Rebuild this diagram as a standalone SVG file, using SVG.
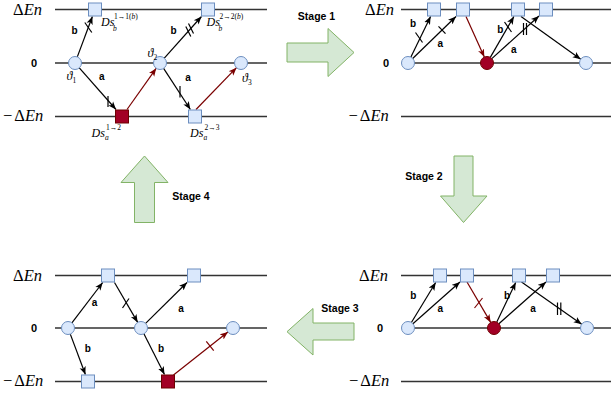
<svg xmlns="http://www.w3.org/2000/svg" width="611" height="393" viewBox="0 0 611 393">
<style>
.lv{stroke:#333;stroke-width:1.4;fill:none}
.nd{fill:#dae8fc;stroke:#6c8ebf;stroke-width:1}
.rd{fill:#a20025;stroke:#6f0000;stroke-width:1}
.e{stroke:#000;stroke-width:1.2;fill:none;marker-end:url(#ab)}
.er{stroke:#7a0000;stroke-width:1.2;fill:none;marker-end:url(#ar)}
.mk{stroke:#000;stroke-width:1.2;fill:none}
.mkr{stroke:#7a0000;stroke-width:1.2;fill:none}
.lb{font-family:"Liberation Sans",Arial,sans-serif;font-weight:bold;font-size:10px;fill:#000;text-anchor:middle}
.st{font-family:"Liberation Sans",Arial,sans-serif;font-weight:bold;font-size:10.5px;fill:#000;text-anchor:middle}
.zr{font-family:"Liberation Sans",Arial,sans-serif;font-weight:bold;font-size:11px;fill:#000;text-anchor:middle}
.m{font-family:"Liberation Serif","DejaVu Serif",serif;font-size:16.5px;fill:#000}
.ds{font-family:"Liberation Serif","DejaVu Serif",serif;font-style:italic;font-size:12px;fill:#000}
.sp{font-family:"Liberation Serif","DejaVu Serif",serif;font-size:7.5px;fill:#000}
.th{font-family:"Liberation Serif","DejaVu Serif",serif;font-style:italic;font-size:12px;fill:#000}
.ar{fill:#d5e8d4;stroke:#82b366;stroke-width:1}
</style>
<defs>
<marker id="ab" viewBox="0 0 10 10" refX="10" refY="5" markerWidth="8" markerHeight="8" markerUnits="userSpaceOnUse" orient="auto"><path d="M0,1 L10,5 L0,9 L2.5,5 z" fill="#000"/></marker>
<marker id="ar" viewBox="0 0 10 10" refX="10" refY="5" markerWidth="8" markerHeight="8" markerUnits="userSpaceOnUse" orient="auto"><path d="M0,1 L10,5 L0,9 L2.5,5 z" fill="#7a0000"/></marker>
</defs>

<!-- level lines and axis labels -->
<g id="levels">
<path class="lv" d="M55,9.5H267M55,63H267M55,116.5H267"/>
<path class="lv" d="M401,9.5H611M408,63H611M401,116.5H611"/>
<path class="lv" d="M55,275.5H267M55,328H267M55,381.5H267"/>
<path class="lv" d="M401,275.5H611M408,328H611M401,381.5H611"/>
<text class="m" x="13" y="15">Δ<tspan font-style="italic">En</tspan></text>
<text class="zr" x="34" y="67">0</text>
<text class="m" x="3" y="120.5">−<tspan dx="2">Δ</tspan><tspan font-style="italic">En</tspan></text>
<text class="m" x="365" y="15">Δ<tspan font-style="italic">En</tspan></text>
<text class="zr" x="386" y="67">0</text>
<text class="m" x="348.5" y="120.5">−<tspan dx="2">Δ</tspan><tspan font-style="italic">En</tspan></text>
<text class="m" x="13" y="281">Δ<tspan font-style="italic">En</tspan></text>
<text class="zr" x="34" y="332">0</text>
<text class="m" x="3" y="385.5">−<tspan dx="2">Δ</tspan><tspan font-style="italic">En</tspan></text>
<text class="m" x="359" y="281">Δ<tspan font-style="italic">En</tspan></text>
<text class="zr" x="380" y="332">0</text>
<text class="m" x="349" y="385.5">−<tspan dx="2">Δ</tspan><tspan font-style="italic">En</tspan></text>
</g>

<!-- stage arrows -->
<g id="stage1"><polygon class="ar" points="287,43 328,43 328,28.5 354,52.5 328,76.5 328,62 287,62"/><text class="st" x="316.5" y="20">Stage 1</text></g>
<g id="stage2"><polygon class="ar" points="454,156 473,156 473,196 487,196 463.5,222.5 440.5,196 454,196"/><text class="st" x="424" y="179.5">Stage 2</text></g>
<g id="stage3"><polygon class="ar" points="287,331.7 313,308.5 313,323 354,323 354,340 313,340 313,355"/><text class="st" x="340" y="312">Stage 3</text></g>
<g id="stage4"><polygon class="ar" points="144.5,156 168,182.5 154.5,182.5 154.5,222.5 134.5,222.5 134.5,182.5 121,182.5"/><text class="st" x="191" y="199.5">Stage 4</text></g>

<!-- connectors -->
<g id="connectors">
<!-- panel 1 -->
<path class="e" d="M77.3,56.9L92.4,16.5"/>
<path class="mk" d="M84.8,22.5L91.8,32.5"/>
<text class="lb" x="74.5" y="33.5">b</text>
<path class="e" d="M164.3,58.2L201.5,16.5"/>
<path class="mk" d="M185.8,26.5L190.8,36.5M188.5,23.5L193.5,33.5"/>
<text class="lb" x="173.5" y="33.5">b</text>
<path class="e" d="M79.3,67.9L116,109.5"/>
<path class="mk" d="M108,96V107"/>
<text class="lb" x="101.7" y="79.5">a</text>
<path class="er" d="M127,109.5L156.2,68.3"/>
<path class="e" d="M163.6,68.4L190.4,109.5"/>
<path class="mk" d="M180,86V97.5"/>
<text class="lb" x="188" y="80.5">a</text>
<path class="er" d="M196,109.5L236.5,67.7"/>
<!-- panel 2 -->
<path class="e" d="M410.8,57.2L430.6,16.5"/>
<path class="mk" d="M415.5,32.5L422.5,42.5"/>
<text class="lb" x="413" y="26.5">b</text>
<path class="e" d="M412.7,58.5L456,16.5"/>
<path class="mk" d="M438.5,26.4L445.5,33.6"/>
<text class="lb" x="440.3" y="46.7">a</text>
<path class="er" d="M466,16.5L484.3,57.1"/>
<path class="e" d="M490.3,57.4L513.9,16.5"/>
<path class="mk" d="M504.5,22L511.5,32"/>
<text class="lb" x="500.3" y="32.7">b</text>
<path class="e" d="M491.8,58.6L539,16"/>
<path class="mk" d="M523.5,23V35M526.5,23V35"/>
<text class="lb" x="513.7" y="52.7">a</text>
<path class="e" d="M521,16.5L580.7,59.2"/>
<!-- panel 3 -->
<path class="e" d="M411.4,322.5L435.7,282.5"/>
<text class="lb" x="413.3" y="299">b</text>
<path class="e" d="M412.9,323.7L460,282"/>
<text class="lb" x="440.3" y="312.3">a</text>
<path class="er" d="M467,282L490.7,322.4"/>
<path class="mkr" d="M474.5,308L482.5,298"/>
<path class="e" d="M496.8,322.1L515.7,282.5"/>
<text class="lb" x="507" y="299">b</text>
<path class="e" d="M498.9,323.7L546,282"/>
<text class="lb" x="533" y="312.3">a</text>
<path class="e" d="M521.5,282L581.7,324.3"/>
<path class="mk" d="M557.5,302.5V315M560.8,302.5V315"/>
<!-- panel 4 -->
<path class="e" d="M71.9,322.8L102.7,282.5"/>
<text class="lb" x="94.5" y="305.7">a</text>
<path class="e" d="M114.5,282.5L137.7,322.4"/>
<path class="mk" d="M122.5,308L129,298.5"/>
<path class="e" d="M145.6,323.4L187,282.5"/>
<text class="lb" x="181" y="311.7">a</text>
<path class="e" d="M70.3,334.1L85.4,374.5"/>
<text class="lb" x="87.8" y="352.3">b</text>
<path class="e" d="M143.9,333.8L164.5,374.5"/>
<text class="lb" x="161" y="352.3">b</text>
<path class="er" d="M173.5,375L227.9,332"/>
<path class="mkr" d="M206.3,341.3L213.7,350.7"/>
</g>

<!-- panel 1 nodes -->
<g id="p1-theta1"><circle class="nd" cx="75" cy="63" r="6.5"/><text class="th" x="66.5" y="80">ϑ<tspan class="sp" font-style="normal" dy="3">1</tspan></text></g>
<g id="p1-theta2"><circle class="nd" cx="160" cy="63" r="6.5"/><text class="th" x="147.5" y="57">ϑ<tspan class="sp" font-style="normal" dy="3">2</tspan></text></g>
<g id="p1-theta3"><circle class="nd" cx="241" cy="63" r="6.5"/><text class="th" x="242" y="82">ϑ<tspan class="sp" font-style="normal" dy="3">3</tspan></text></g>
<g id="p1-ds-b11"><rect class="nd" x="88.5" y="3" width="13" height="13"/><text class="ds" x="101" y="26">Ds</text><text class="sp" x="114" y="19">1→1(<tspan font-style="italic">b</tspan>)</text><text class="sp" font-style="italic" x="113" y="31">b</text></g>
<g id="p1-ds-b22"><rect class="nd" x="201.5" y="3" width="13" height="13"/><text class="ds" x="206.5" y="26">Ds</text><text class="sp" x="219.5" y="19">2→2(<tspan font-style="italic">b</tspan>)</text><text class="sp" font-style="italic" x="218.5" y="31">b</text></g>
<g id="p1-ds-a12"><rect class="rd" x="115.5" y="110" width="13" height="13"/><text class="ds" x="91.5" y="137">Ds</text><text class="sp" x="106" y="130">1→2</text><text class="sp" font-style="italic" x="105" y="140">a</text></g>
<g id="p1-ds-a23"><rect class="nd" x="188.5" y="110" width="13" height="13"/><text class="ds" x="190" y="137">Ds</text><text class="sp" x="204.5" y="130">2→3</text><text class="sp" font-style="italic" x="203.5" y="140">a</text></g>

<!-- panel 2 nodes -->
<g id="p2-c1"><circle class="nd" cx="408" cy="63" r="6.5"/></g>
<g id="p2-c2"><circle class="rd" cx="487" cy="63" r="6.5"/></g>
<g id="p2-c3"><circle class="nd" cx="586" cy="63" r="6.5"/></g>
<g id="p2-s1"><rect class="nd" x="427.5" y="3" width="13" height="13"/></g>
<g id="p2-s2"><rect class="nd" x="456.5" y="3" width="13" height="13"/></g>
<g id="p2-s3"><rect class="nd" x="511.5" y="3" width="13" height="13"/></g>
<g id="p2-s4"><rect class="nd" x="539.5" y="3" width="13" height="13"/></g>

<!-- panel 3 nodes -->
<g id="p3-c1"><circle class="nd" cx="408" cy="328" r="6.5"/></g>
<g id="p3-c2"><circle class="rd" cx="494" cy="328" r="6.5"/></g>
<g id="p3-c3"><circle class="nd" cx="587" cy="328" r="6.5"/></g>
<g id="p3-s1"><rect class="nd" x="433.5" y="269" width="13" height="13"/></g>
<g id="p3-s2"><rect class="nd" x="460.5" y="269" width="13" height="13"/></g>
<g id="p3-s3"><rect class="nd" x="512.5" y="269" width="13" height="13"/></g>
<g id="p3-s4"><rect class="nd" x="546.5" y="269" width="13" height="13"/></g>

<!-- panel 4 nodes -->
<g id="p4-c1"><circle class="nd" cx="68" cy="328" r="6.5"/></g>
<g id="p4-c2"><circle class="nd" cx="141" cy="328" r="6.5"/></g>
<g id="p4-c3"><circle class="nd" cx="233" cy="328" r="6.5"/></g>
<g id="p4-s1"><rect class="nd" x="101.5" y="269" width="13" height="13"/></g>
<g id="p4-s2"><rect class="nd" x="187.5" y="269" width="13" height="13"/></g>
<g id="p4-s3"><rect class="nd" x="81.5" y="375" width="13" height="13"/></g>
<g id="p4-s4"><rect class="rd" x="161.5" y="375" width="13" height="13"/></g>
</svg>
